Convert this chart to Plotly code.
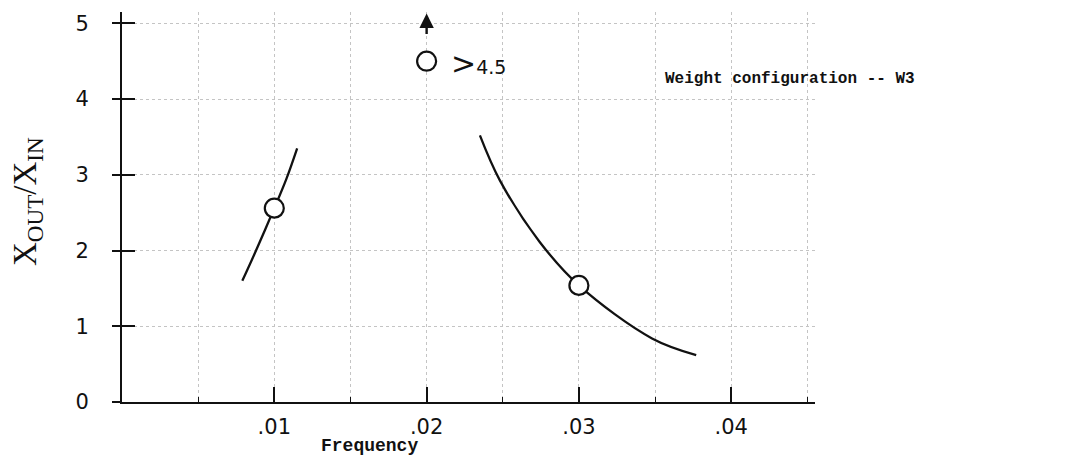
import plotly.graph_objects as go

# ---- data ----
left_x = [0.0079, 0.0088, 0.0100, 0.0108, 0.0115]
left_y = [1.60, 2.00, 2.56, 2.95, 3.35]

right_x = [0.0235, 0.0248, 0.0274, 0.0300, 0.0348, 0.0377]
right_y = [3.52, 2.93, 2.12, 1.54, 0.84, 0.62]

point_x = [0.01, 0.02, 0.03]
point_y = [2.56, 4.50, 1.54]

arrow_x = 0.02
arrow_base_y = 4.84
arrow_tip_y = 5.13

x_tickvals = [0.01, 0.02, 0.03, 0.04]
x_ticktext = [".01", ".02", ".03", ".04"]
y_tickvals = [0, 1, 2, 3, 4, 5]
y_ticktext = ["0", "1", "2", "3", "4", "5"]

INK = "#111111"
GRID = "#c4c4c4"
TICKFONT = dict(family="DejaVu Sans", size=21, color=INK)
MONO = "Liberation Mono"

# page body adds an 8px offset; plot area target: x 122..815, y 12..402
OFF = 8
PL, PT, PW, PH = 122, 12, 693, 390

fig = go.Figure()

fig.add_trace(go.Scatter(x=left_x, y=left_y, mode="lines", line=dict(color=INK, width=2.3, shape="spline"),
                         showlegend=False, hoverinfo="skip"))
fig.add_trace(go.Scatter(x=right_x, y=right_y, mode="lines", line=dict(color=INK, width=2.3, shape="spline"),
                         showlegend=False, hoverinfo="skip"))
fig.add_trace(go.Scatter(x=point_x, y=point_y, mode="markers",
                         marker=dict(symbol="circle", size=19, color="white", line=dict(color=INK, width=2.2)),
                         showlegend=False))

fig.update_layout(
    width=1083, height=464,
    margin=dict(l=PL - OFF, r=1083 - (PL + PW) + OFF, t=PT - OFF, b=464 - (PT + PH) + OFF),
    plot_bgcolor="white", paper_bgcolor="white",
    xaxis=dict(
        range=[0, 0.0455], showline=True, linecolor=INK, linewidth=2,
        tickvals=x_tickvals, ticktext=x_ticktext, ticks="inside", ticklen=15, tickwidth=2, tickcolor=INK,
        tickfont=TICKFONT, ticklabelstandoff=5,
        minor=dict(dtick=0.005, tick0=0, ticks="inside", ticklen=5, tickwidth=1, tickcolor=INK,
                   showgrid=True, gridcolor=GRID, griddash="dot", gridwidth=1),
        showgrid=True, gridcolor=GRID, griddash="dot", gridwidth=1,
        zeroline=False, fixedrange=True,
    ),
    yaxis=dict(
        range=[0, 5.15], showline=True, linecolor=INK, linewidth=2,
        tickvals=y_tickvals, ticktext=y_ticktext, ticks="inside", ticklen=13, tickwidth=2, tickcolor=INK,
        tickfont=TICKFONT, ticklabelstandoff=27,
        showgrid=True, gridcolor=GRID, griddash="dot", gridwidth=1,
        zeroline=False, fixedrange=True,
    ),
    yaxis2=dict(
        range=[0, 5.15], overlaying="y", side="left", showline=False,
        tickvals=y_tickvals, ticks="outside", ticklen=9, tickwidth=2, tickcolor=INK,
        showticklabels=False, showgrid=False, zeroline=False, fixedrange=True,
    ),
)

# invisible trace to activate the overlay axis carrying the outer half of the crossing ticks
fig.add_trace(go.Scatter(x=[None], y=[None], yaxis="y2", showlegend=False, hoverinfo="skip"))

# arrow indicating value above 4.5
fig.add_annotation(x=arrow_x, y=arrow_tip_y, ax=arrow_x, ay=arrow_base_y, axref="x", ayref="y",
                   xref="x", yref="y", showarrow=True, arrowhead=2, arrowsize=1.2, arrowwidth=2.4,
                   arrowcolor=INK, text="")

fig.add_annotation(x=point_x[1], y=point_y[1], xref="x", yref="y", xanchor="left", yanchor="middle",
                   xshift=22, yshift=-2, showarrow=False,
                   text="<span style='font-size:30px'>&gt;</span><span style='font-size:19px'>4.5</span>",
                   font=dict(family="DejaVu Sans", size=19, color=INK))


def px(xp):
    return (xp - PL) / PW


def py(yp):
    return (PT + PH - yp) / PH


fig.add_annotation(x=px(663), y=py(79), xref="paper", yref="paper",
                   xanchor="left", yanchor="middle", showarrow=False,
                   text="<b>Weight configuration -- W3</b>",
                   font=dict(family=MONO, size=16, color=INK))

fig.add_annotation(x=px(369), y=py(446), xref="paper", yref="paper",
                   xanchor="center", yanchor="middle", showarrow=False,
                   text="<b>Frequency</b>", font=dict(family=MONO, size=18, color=INK))

fig.add_annotation(x=px(27), y=py(202), xref="paper", yref="paper",
                   xanchor="center", yanchor="middle", showarrow=False, textangle=-90,
                   text="X<sub>OUT</sub>/X<sub>IN</sub>",
                   font=dict(family="Liberation Serif", size=33, color=INK))

fig.write_html("out.html")
